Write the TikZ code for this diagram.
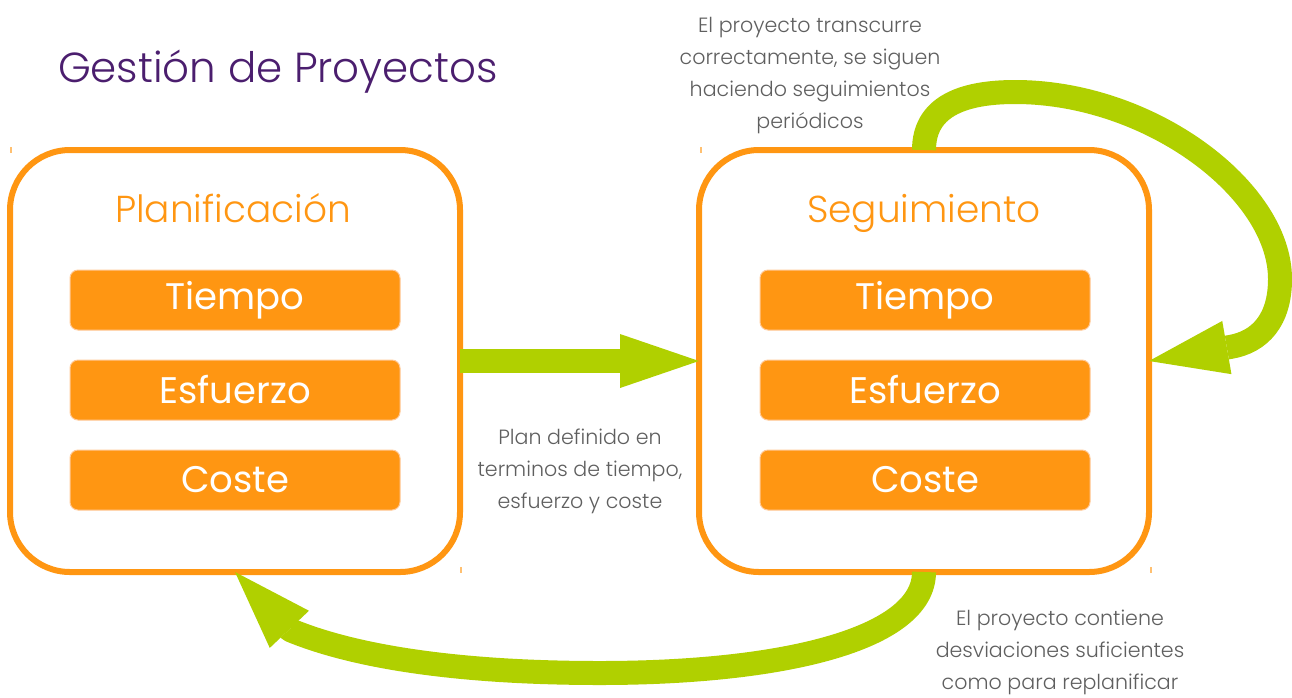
\documentclass[tikz,border=0pt]{standalone}
\usepackage{fontspec}
\setmainfont{Poppins}
\newfontfamily\ligera{Poppins Light}
\usetikzlibrary{arrows.meta}
\usetikzlibrary{positioning}
\definecolor{naranja}{RGB}{255,150,18}
\definecolor{verde}{RGB}{176,208,0}
\definecolor{morado}{RGB}{75,30,110}
\definecolor{gris}{RGB}{95,95,95}
\definecolor{melocoton}{RGB}{255,200,150}
\tikzset{fase/.style = {draw=naranja, line width=6, rounded corners=60, minimum width=450, minimum height=422, inner sep=0, outer sep=0}}
\tikzset{fasetit/.style = {text=naranja, anchor=base, font=\ligera\fontsize{37.5}{37.5}\selectfont}}
\tikzset{tarea/.style = {fill=naranja, draw=melocoton, line width=1, rounded corners=8, minimum width=330, minimum height=60, text=white, font=\fontsize{37}{37}\selectfont}}
\tikzset{flecha/.style = {draw=verde, line width=24, line join=round, -{Triangle[length=79pt, width=54pt, line width=0pt]}}}
\tikzset{nota/.style = {text=gris, align=center, font=\ligera\fontsize{20.6}{32}\selectfont}}
\tikzset{marca/.style = {draw=naranja!60, line width=1.5}}

\begin{document}
\begin{tikzpicture}[x=1pt, y=-1pt]
      \useasboundingbox (0,0) rectangle (1292,697);
      \node [text=morado, anchor=base, font=\ligera\fontsize{42}{42}\selectfont] (titulo) at (278,82) {Gestión de Proyectos};

      % fases
      \node [fase] (plan) at (235,361) {};
      \node [fase] (segu) at (924,361) {};
      \node [fasetit] (planTit) at (233,222) {Planificación};
      \node [fasetit] (seguTit) at (924,222) {Seguimiento};

      \node [tarea] (planT) at (235,300) {Tiempo};
      \node [tarea] (planE) at (235,390) {Esfuerzo};
      \node [tarea] (planC) at (235,480) {Coste};
      \node [tarea] (seguT) at (925,300) {Tiempo};
      \node [tarea] (seguE) at (925,390) {Esfuerzo};
      \node [tarea] (seguC) at (925,480) {Coste};

      % marcas de las esquinas
      \draw [marca] (11,147) -- (11,153);
      \draw [marca] (701,147) -- (701,153);
      \draw [marca] (461,567) -- (461,573);
      \draw [marca] (1151,567) -- (1151,573);

      % flechas
      \draw [flecha] (plan.east) -- (segu.west);
      \draw [flecha] (segu.north) .. controls (924,108) and (960,92) .. (1015,92)
        .. controls (1150,92) and (1280,190) .. (1280,279)
        .. controls (1280,320) and (1260,342) .. (1230,347) -- (segu.east);
      \draw [flecha] (segu.south) .. controls (924,640) and (780,673) .. (600,673)
        .. controls (450,673) and (350,655) .. (290,630) -- (plan.south);

      \node [nota] (notaPlan) at (580,471) {Plan definido en\\terminos de tiempo,\\esfuerzo y coste};
      \node [nota] (notaSigue) at (810,76) {El proyecto transcurre\\correctamente, se siguen\\haciendo seguimientos\\periódicos};
      \node [nota] (notaDesv) at (1060,652) {El proyecto contiene\\desviaciones suficientes\\como para replanificar};
    \end{tikzpicture}
\end{document}
